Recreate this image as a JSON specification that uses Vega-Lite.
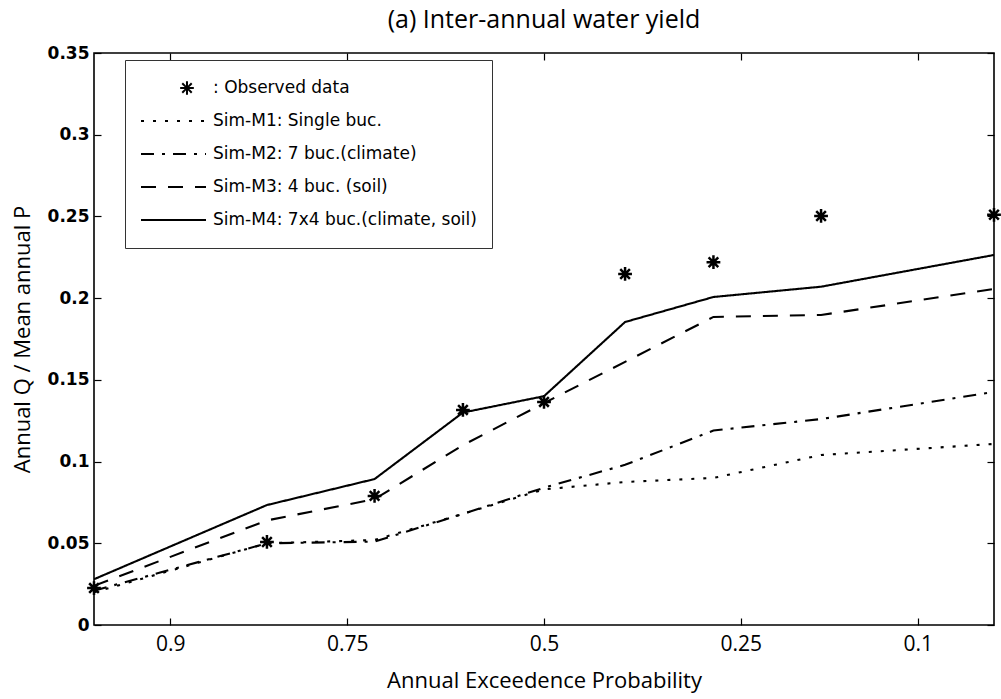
{
  "$schema": "https://vega.github.io/schema/vega-lite/v6.json",
  "width": 900,
  "height": 572,
  "autosize": {"type": "none"},
  "padding": {"left": 94, "top": 53, "right": 7, "bottom": 74},
  "background": "white",
  "config": {
    "view": {"stroke": "black", "strokeWidth": 1.6},
    "axis": {"grid": false, "domain": false, "tickColor": "black", "tickSize": -7, "tickWidth": 1.2, "labelColor": "black", "titleColor": "black", "titleFontWeight": "normal"}
  },
  "title": {"text": "(a) Inter-annual water yield", "font": "Open Sans", "fontSize": 25, "fontWeight": "normal", "color": "black", "offset": 11},
  "data": {
    "values": [
      {"s": ": Observed data", "z": -1.543, "v": 0.0226},
      {"s": ": Observed data", "z": -0.950, "v": 0.0508},
      {"s": ": Observed data", "z": -0.581, "v": 0.079},
      {"s": ": Observed data", "z": -0.278, "v": 0.1316},
      {"s": ": Observed data", "z": 0.0, "v": 0.1365},
      {"s": ": Observed data", "z": 0.278, "v": 0.2148},
      {"s": ": Observed data", "z": 0.581, "v": 0.222},
      {"s": ": Observed data", "z": 0.950, "v": 0.2503},
      {"s": ": Observed data", "z": 1.543, "v": 0.251},
      {"s": "Sim-M1: Single buc.", "z": -1.543, "v": 0.020},
      {"s": "Sim-M1: Single buc.", "z": -0.950, "v": 0.050},
      {"s": "Sim-M1: Single buc.", "z": -0.581, "v": 0.052},
      {"s": "Sim-M1: Single buc.", "z": -0.278, "v": 0.068},
      {"s": "Sim-M1: Single buc.", "z": 0.0, "v": 0.083},
      {"s": "Sim-M1: Single buc.", "z": 0.278, "v": 0.0875},
      {"s": "Sim-M1: Single buc.", "z": 0.581, "v": 0.090},
      {"s": "Sim-M1: Single buc.", "z": 0.950, "v": 0.104},
      {"s": "Sim-M1: Single buc.", "z": 1.543, "v": 0.1108},
      {"s": "Sim-M2: 7 buc.(climate)", "z": -1.543, "v": 0.021},
      {"s": "Sim-M2: 7 buc.(climate)", "z": -0.950, "v": 0.050},
      {"s": "Sim-M2: 7 buc.(climate)", "z": -0.581, "v": 0.051},
      {"s": "Sim-M2: 7 buc.(climate)", "z": -0.278, "v": 0.068},
      {"s": "Sim-M2: 7 buc.(climate)", "z": 0.0, "v": 0.084},
      {"s": "Sim-M2: 7 buc.(climate)", "z": 0.278, "v": 0.098},
      {"s": "Sim-M2: 7 buc.(climate)", "z": 0.581, "v": 0.119},
      {"s": "Sim-M2: 7 buc.(climate)", "z": 0.950, "v": 0.126},
      {"s": "Sim-M2: 7 buc.(climate)", "z": 1.543, "v": 0.1426},
      {"s": "Sim-M3: 4 buc. (soil)", "z": -1.543, "v": 0.024},
      {"s": "Sim-M3: 4 buc. (soil)", "z": -0.950, "v": 0.064},
      {"s": "Sim-M3: 4 buc. (soil)", "z": -0.581, "v": 0.077},
      {"s": "Sim-M3: 4 buc. (soil)", "z": -0.278, "v": 0.110},
      {"s": "Sim-M3: 4 buc. (soil)", "z": 0.0, "v": 0.1358},
      {"s": "Sim-M3: 4 buc. (soil)", "z": 0.278, "v": 0.161},
      {"s": "Sim-M3: 4 buc. (soil)", "z": 0.581, "v": 0.1885},
      {"s": "Sim-M3: 4 buc. (soil)", "z": 0.950, "v": 0.1897},
      {"s": "Sim-M3: 4 buc. (soil)", "z": 1.543, "v": 0.2056},
      {"s": "Sim-M4: 7x4 buc.(climate, soil)", "z": -1.543, "v": 0.028},
      {"s": "Sim-M4: 7x4 buc.(climate, soil)", "z": -0.950, "v": 0.0734},
      {"s": "Sim-M4: 7x4 buc.(climate, soil)", "z": -0.581, "v": 0.0893},
      {"s": "Sim-M4: 7x4 buc.(climate, soil)", "z": -0.278, "v": 0.130},
      {"s": "Sim-M4: 7x4 buc.(climate, soil)", "z": 0.0, "v": 0.140},
      {"s": "Sim-M4: 7x4 buc.(climate, soil)", "z": 0.278, "v": 0.1854},
      {"s": "Sim-M4: 7x4 buc.(climate, soil)", "z": 0.581, "v": 0.2007},
      {"s": "Sim-M4: 7x4 buc.(climate, soil)", "z": 0.950, "v": 0.207},
      {"s": "Sim-M4: 7x4 buc.(climate, soil)", "z": 1.543, "v": 0.2264}
    ]
  },
  "layer": [
    {
      "transform": [{"filter": "datum.s !== ': Observed data'"}],
      "mark": {"type": "line", "color": "black", "strokeWidth": 2.1, "clip": true},
      "encoding": {
        "x": {"field": "z", "type": "quantitative", "scale": {"domain": [-1.543, 1.543], "nice": false, "zero": false},
          "axis": {"orient": "bottom", "values": [-1.2816, -0.6745, 0, 0.6745, 1.2816], "labelExpr": "format(1 - cumulativeNormal(datum.value), '.2~f')", "labelFont": "Open Sans", "labelFontSize": 21, "labelPadding": 15, "title": "Annual Exceedence Probability", "titleFont": "Open Sans", "titleFontSize": 22, "titlePadding": 16}},
        "y": {"field": "v", "type": "quantitative", "scale": {"domain": [0, 0.35], "nice": false},
          "axis": {"orient": "left", "values": [0, 0.05, 0.1, 0.15, 0.2, 0.25, 0.3, 0.35], "format": ".2~f", "labelFont": "DejaVu Sans", "labelFontWeight": "bold", "labelFontSize": 17, "labelPadding": 12, "title": "Annual Q / Mean annual P", "titleFont": "Open Sans", "titleFontSize": 22, "titlePadding": 13}},
        "strokeDash": {"field": "s", "type": "nominal",
          "scale": {"domain": [": Observed data", "Sim-M1: Single buc.", "Sim-M2: 7 buc.(climate)", "Sim-M3: 4 buc. (soil)", "Sim-M4: 7x4 buc.(climate, soil)"],
                    "range": [[1, 0], [3, 9], [13, 8, 3, 8], [15, 12], [1, 0]]},
          "legend": {"orient": "none", "legendX": 31, "legendY": 7, "title": null, "symbolType": "stroke", "symbolSize": 4225, "symbolStrokeWidth": 2, "symbolStrokeColor": "black", "clipHeight": 26, "rowPadding": 7, "padding": 15, "labelOffset": 6, "labelFont": "DejaVu Sans", "labelFontSize": 17, "labelColor": "black", "labelLimit": 0, "strokeColor": "#333", "fillColor": "white",
            "labelExpr": "datum.index === 0 ? '\u00a0\u00a0\u00a0: Observed data' : datum.label",
            "encode": {"symbols": {"update": {
              "shape": {"signal": "datum.index === 0 ? 'M0.415,-0.21L0.415,0.21M0.205,0L0.625,0M0.27,-0.145L0.56,0.145M0.27,0.145L0.56,-0.145' : 'stroke'"}
            }}}}
        }
      }
    },
    {
      "transform": [{"filter": "datum.s === ': Observed data'"}],
      "mark": {"type": "point", "shape": "M0,-1L0,1M-1,0L1,0M-0.7,-0.7L0.7,0.7M-0.7,0.7L0.7,-0.7", "filled": false, "color": "black", "strokeWidth": 2.5, "size": 190, "opacity": 1, "clip": false},
      "encoding": {
        "x": {"field": "z", "type": "quantitative", "axis": {"orient": "top", "values": [-1.2816, -0.6745, 0, 0.6745, 1.2816], "labels": false, "title": null}},
        "y": {"field": "v", "type": "quantitative", "axis": {"orient": "right", "values": [0, 0.05, 0.1, 0.15, 0.2, 0.25, 0.3, 0.35], "labels": false, "title": null}}
      }
    }
  ],
  "resolve": {"axis": {"x": "independent", "y": "independent"}}
}
